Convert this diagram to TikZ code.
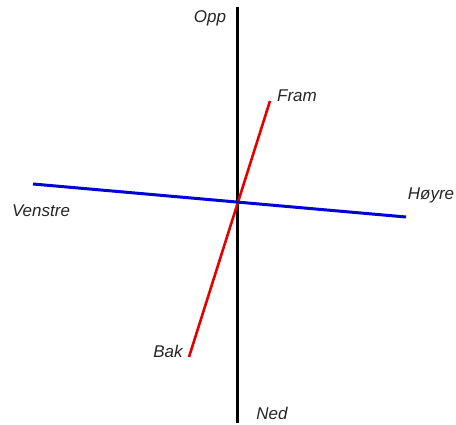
\documentclass[tikz,border=0pt]{standalone}
\usepackage{fontspec}
\setmainfont{Liberation Sans}
\begin{document}
\begin{tikzpicture}[x=1pt,y=-1pt,
  lbl/.style={font=\fontsize{17}{20}\selectfont\itshape, inner sep=0pt, text=black!85},
  axisline/.style={line width=3pt}]
\useasboundingbox[fill=white] (0,0) rectangle (456,425);
\coordinate (vtop) at (237,7);
\coordinate (vbot) at (237,423);
\coordinate (bl) at (33,184);
\coordinate (br) at (406,217);
\coordinate (rb) at (189,357);
\coordinate (rt) at (270,101);
\draw[axisline, black] (vtop) -- (vbot);
\draw[line width=2.6pt, red!90!black] (rb) -- (rt);
\draw[line width=3pt, blue!85!black] (bl) -- (br);
\node[lbl] (opp) at (210,18) {Opp};
\node[lbl] (fram) at (297,96) {Fram};
\node[lbl] (venstre) at (41,211) {Venstre};
\node[lbl] (hoyre) at (431,195) {Høyre};
\node[lbl] (bak) at (168,351) {Bak};
\node[lbl] (ned) at (272,413) {Ned};
\end{tikzpicture}
\end{document}
